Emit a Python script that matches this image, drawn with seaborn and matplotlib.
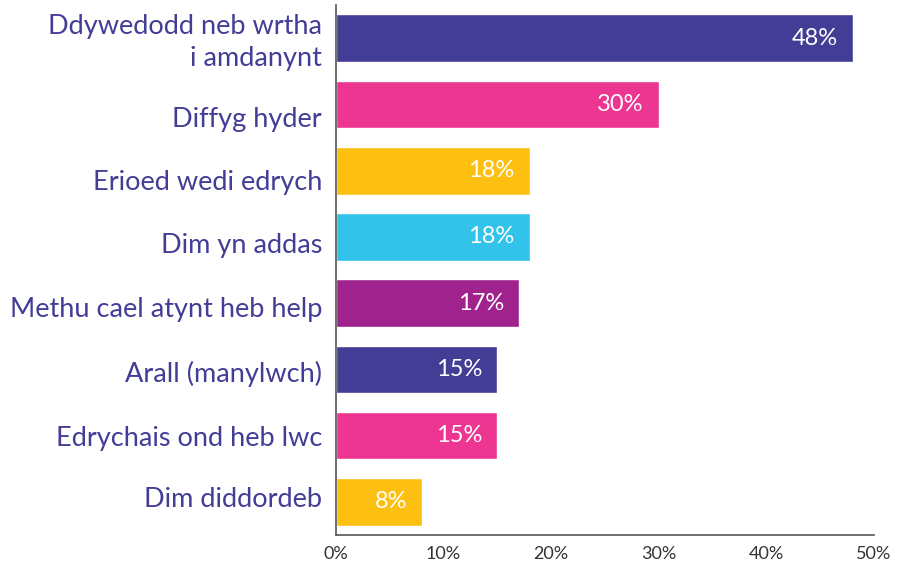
import matplotlib
matplotlib.use("Agg")
import matplotlib.pyplot as plt
import seaborn as sns
import pandas as pd

categories = ["Ddywedodd neb wrtha\ni amdanynt", "Diffyg hyder", "Erioed wedi edrych",
              "Dim yn addas", "Methu cael atynt heb help", "Arall (manylwch)",
              "Edrychais ond heb lwc", "Dim diddordeb"]
values = [48, 30, 18, 18, 17, 15, 15, 8]
colors = ["#433d96", "#ec3692", "#fdc010", "#33c3ea", "#a0228c", "#433d96", "#ec3692", "#fdc010"]
xticks = [0, 10, 20, 30, 40, 50]
xtick_labels = ["0%", "10%", "20%", "30%", "40%", "50%"]

# layout: small vertical shift of category labels relative to their bars (as in reference)
label_shift = [-0.025, 0.196, 0.136, 0.09, 0.06, 0.03, 0.0, -0.075]

sns.set_theme(style="white")
plt.rcParams['font.family'] = ['Lato', 'DejaVu Sans']

df = pd.DataFrame({"cat": categories, "val": values})
fig = plt.figure(figsize=(9.08, 5.65), dpi=100)
ax = fig.add_axes([0.370, 0.0531, 0.5926, 0.9379])
sns.barplot(data=df, x="val", y="cat", hue="cat", palette=colors, legend=False,
            width=0.72, ax=ax, saturation=1)
ax.set_xlim(0, 50)
ax.set_ylim(7.5, -0.5)
ax.set_xlabel("")
ax.set_ylabel("")
ax.set_xticks(xticks)
ax.set_xticklabels(xtick_labels, fontsize=13, color="#333333")
ax.tick_params(axis="x", direction="in", length=12, width=1, color="#444444", pad=8)
ax.set_yticks([i + s for i, s in enumerate(label_shift)])
ax.set_yticklabels(categories)
ax.tick_params(axis="y", length=0, pad=10)
for lbl in ax.get_yticklabels():
    lbl.set_fontsize(19.5)
    lbl.set_color("#433d96")
    lbl.set_linespacing(1.35)
for s in ["top", "right"]:
    ax.spines[s].set_visible(False)
for s in ["left", "bottom"]:
    ax.spines[s].set_color("#555555")
    ax.spines[s].set_linewidth(1.2)

for i, v in enumerate(values):
    ax.text(v - 1.4, i, f"{v}%", ha="right", va="center", color="white", fontsize=17)

fig.savefig("out.png", dpi=100)
